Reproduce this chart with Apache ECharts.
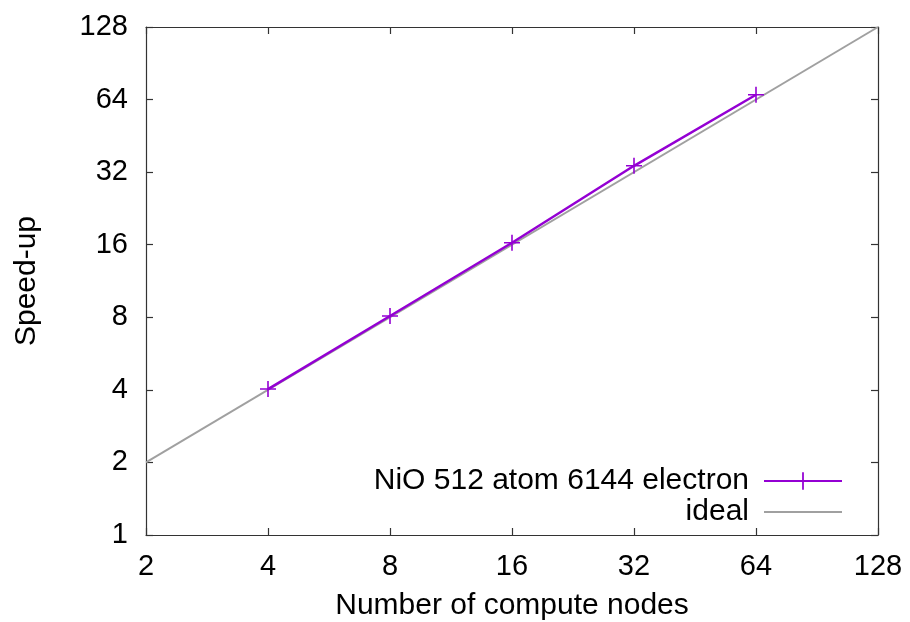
<!DOCTYPE html>
<html>
<head>
<meta charset="utf-8">
<script src="https://cdn.jsdelivr.net/npm/echarts@6/dist/echarts.min.js"></script>
<style>html,body{margin:0;padding:0;background:#fff}#c{width:910px;height:622px}</style>
</head>
<body>
<div id="c"></div>
<script>
const nodes = [4, 8, 16, 32, 64];
const speedup = [4.03, 8.1, 16.3, 34.0, 67.0];
const idealX = [2, 128];
const idealY = [2, 128];
const seriesNames = ['NiO 512 atom 6144 electron', 'ideal'];
const xTicks = [2, 4, 8, 16, 32, 64, 128];
const yTicks = [1, 2, 4, 8, 16, 32, 64, 128];

const FONT = 'Liberation Sans';
const TICK_FS = 29;
const TEXT_FS = 30;
const plus = 'path://M-1,-10 L1,-10 L1,-1 L10,-1 L10,1 L1,1 L1,10 L-1,10 L-1,1 L-10,1 L-10,-1 L-1,-1 Z';
const lineCol = '#333';

const chart = echarts.init(document.getElementById('c'), null, {renderer: 'canvas'});

function baseAxis(extra) {
  return Object.assign({
    type: 'log',
    logBase: 2,
    axisLine: {show: true, lineStyle: {color: lineCol, width: 1.2}},
    axisTick: {show: true, inside: true, length: 7, lineStyle: {color: lineCol, width: 1.2}},
    minorTick: {show: false},
    splitLine: {show: false},
    axisLabel: {color: '#000', fontFamily: FONT, fontSize: TICK_FS},
    nameTextStyle: {color: '#000', fontFamily: FONT, fontSize: TEXT_FS}
  }, extra);
}

const option = {
  backgroundColor: '#fff',
  animation: false,
  grid: {left: 146, right: 32, top: 27, bottom: 87, containLabel: false, outerBoundsMode: 'none'},
  xAxis: [
    baseAxis({min: xTicks[0], max: xTicks[xTicks.length - 1], interval: 1, position: 'bottom',
      name: 'Number of compute nodes', nameLocation: 'middle', nameGap: 56,
      axisLabel: {color: '#000', fontFamily: FONT, fontSize: TICK_FS, margin: 17}}),
    baseAxis({min: xTicks[0], max: xTicks[xTicks.length - 1], interval: 1, position: 'top',
      axisLabel: {show: false}})
  ],
  yAxis: [
    baseAxis({min: yTicks[0], max: yTicks[yTicks.length - 1], interval: 1, position: 'left',
      name: 'Speed-up', nameLocation: 'middle', nameGap: 104,
      axisLabel: {color: '#000', fontFamily: FONT, fontSize: TICK_FS, margin: 18}}),
    baseAxis({min: yTicks[0], max: yTicks[yTicks.length - 1], interval: 1, position: 'right',
      axisLabel: {show: false}})
  ],
  legend: [
    {data: [seriesNames[0]], right: 67, top: 466, orient: 'vertical', align: 'right',
      itemWidth: 78, itemHeight: 22, padding: 0,
      textStyle: {color: '#000', fontFamily: FONT, fontSize: TEXT_FS, padding: [0, 10, 0, 0]}},
    {data: [seriesNames[1]], right: 67, top: 497, orient: 'vertical', align: 'right',
      itemWidth: 78, itemHeight: 22, padding: 0,
      itemStyle: {opacity: 0},
      textStyle: {color: '#000', fontFamily: FONT, fontSize: TEXT_FS, padding: [0, 10, 0, 0]}}
  ],
  series: [
    {
      name: seriesNames[0], type: 'line', z: 3,
      data: nodes.map((n, i) => [n, speedup[i]]),
      symbol: plus, symbolSize: 16,
      itemStyle: {color: '#9400d3'},
      lineStyle: {color: '#9400d3', width: 2.5}
    },
    {
      name: seriesNames[1], type: 'line', z: 2,
      data: idealX.map((x, i) => [x, idealY[i]]),
      symbol: 'none',
      itemStyle: {color: '#a0a0a0'},
      lineStyle: {color: '#a0a0a0', width: 2}
    }
  ]
};
chart.setOption(option);
</script>
</body>
</html>
